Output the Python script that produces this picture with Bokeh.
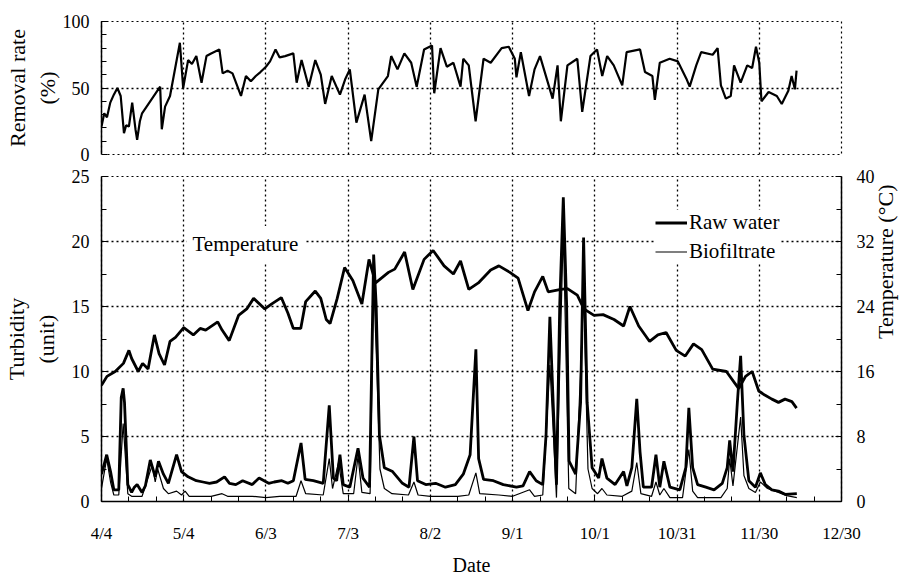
import math
from bokeh.plotting import figure
from bokeh.models import Range1d, LinearAxis, FixedTicker, Legend, LegendItem, Label
from bokeh.layouts import column
from bokeh.embed import file_html
from bokeh.resources import INLINE

# ---------------- data (days since 4/4) ----------------
tick_days = [0, 30, 60, 90, 120, 150, 180, 210, 240, 270]
tick_labels = ["4/4", "5/4", "6/3", "7/3", "8/2", "9/1", "10/1", "10/31", "11/30", "12/30"]

rate_days = [0, 1, 2, 3.2, 4.5, 5.8, 7, 8.2, 9, 10, 11.2, 12.4, 13, 14, 14.8, 21.4, 22, 23.2, 25,
             28.6, 29.8, 31.6, 33, 34.6, 36.5, 38.3, 40, 43, 44.2, 46, 47.8, 50.9, 52.7, 54.5, 56.3,
             58, 60, 61.5, 63.5, 65, 67, 70, 71.2, 73, 75.6, 78, 80, 81.6, 84, 87, 89, 90.6, 93, 96,
             98.4, 101, 104.5, 105.7, 108, 110.5, 113, 115, 117.7, 120.6, 121.4, 123.7, 126, 128.4,
             131, 132, 134, 135, 136.5, 139.4, 142, 146, 148.6, 150.8, 151.4, 153, 156, 158, 160,
             164.6, 166.4, 167.6, 170, 173.6, 175.4, 178.4, 180.8, 182.7, 184.5, 186.9, 190, 191.6,
             196.5, 198.3, 201, 201.9, 203.7, 207.3, 210.3, 213.4, 214.6, 217, 218.8, 223, 224.8,
             226, 227.8, 229.6, 230.8, 233.2, 235.6, 237.4, 238.8, 240, 240.8, 243.4, 246.4, 248.2,
             250.6, 251.8, 253, 253.6]
rate_vals = [21, 31, 28, 39, 45, 50, 44, 16, 22, 21, 39, 19, 11, 25, 31, 51, 19, 36, 44,
             84, 50, 71, 68, 74, 54, 74, 76, 79, 61, 63, 61, 44, 59, 55, 59,
             62, 66, 70, 79, 73, 74, 76, 54, 71, 51, 71, 60, 38, 59, 45, 57, 64, 24, 45,
             10, 49, 59, 74, 64, 76, 69, 51, 79, 82, 46, 80, 66, 69,
             51, 72, 67, 50, 25, 72, 69, 80, 81, 72, 58, 77, 44, 64, 74,
             42, 67, 25, 67, 72, 32, 74, 79, 59, 74, 67, 52, 77,
             79, 62, 59, 41, 69, 72, 70, 57, 51, 67, 77, 75, 80,
             52, 42, 44, 67, 54, 67, 65, 81, 69, 40, 47, 44, 38,
             48, 59, 49, 63]

temp_days = [0, 2, 5, 8, 10, 11, 13.4, 15, 17, 19.3, 21, 23, 25, 27, 30, 33.5, 36, 38, 42.4, 44,
             46.6, 50, 53, 55.5, 59.6, 62, 65.6, 68, 70, 72.7, 74.5, 78, 80, 82, 83.4, 86, 88.7,
             91.7, 95, 97.6, 100, 104.7, 107, 110.6, 113.6, 117.7, 121, 125, 128.4, 131, 134,
             137.5, 142, 145, 149, 152, 155.6, 158, 161, 163, 167.6, 170, 173.6, 176, 179.7, 183,
             187, 190.5, 192.8, 196, 200, 203, 206, 209.7, 213, 216, 219, 223, 228, 232.5, 235,
             237.4, 239.8, 242, 244.6, 247, 249.4, 251.9, 253.6]
temp_vals = [14.3, 15.4, 16.0, 17.0, 18.6, 17.6, 16.0, 17.0, 16.3, 20.5, 18.2, 16.8, 19.7, 20.2,
             21.4, 20.5, 21.3, 21.1, 22.1, 21.1, 19.8, 22.9, 23.7, 25.0, 23.7, 24.3, 25.1, 23.2,
             21.3, 21.3, 24.6, 25.9, 25.0, 22.4, 21.9, 25.0, 28.8, 27.2, 24.3, 29.8, 26.9, 28.2,
             28.6, 30.7, 26.1, 29.8, 30.9, 29.0, 28.0, 29.6, 26.1, 26.9, 28.5, 29.0, 28.2, 27.5,
             23.5, 25.8, 27.7, 25.8, 26.1, 26.2, 25.4, 23.7, 22.9, 23.0, 22.4, 21.6, 24.0, 21.6,
             19.7, 20.5, 20.8, 18.6, 17.9, 19.4, 18.7, 16.3, 16.0, 13.9, 15.4, 16.0, 13.6, 13.1,
             12.6, 12.2, 12.6, 12.3, 11.5]

raw_days = [0, 1.9, 3.3, 4.5, 6.3, 7.2, 7.9, 8.4, 9.6, 11, 12, 13, 14.8, 16, 17.8, 19.6, 20.8, 22.6,
            24.4, 27.4, 29.2, 31.6, 34.6, 37, 39.4, 42, 44.9, 46.7, 49, 51.5, 55, 57.5, 61, 63, 65.8,
            68, 70, 72.8, 74.3, 77.3, 80.9, 83.1, 84.6, 85.8, 87, 88.2, 90.6, 93.6, 95.4, 97.8, 99.3,
            100.2, 101.4, 103.2, 106.2, 109.8, 112.2, 114, 115.3, 118.3, 121.9, 125.5, 129.1, 132,
            134.5, 136.6, 137.6, 139.4, 143, 146.6, 151.4, 153.8, 156.2, 158.6, 161, 162.2, 163.6,
            164.8, 166, 167.2, 168.5, 169.7, 170.6, 173, 174.8, 175.9, 177.2, 179, 181.4, 182.6,
            184.4, 187.4, 190.5, 191.7, 193.5, 195.3, 196.5, 197.7, 200.7, 202.3, 203.7, 205.2,
            207.4, 211, 213.2, 214.3, 215.7, 217.5, 220.5, 223.5, 226.5, 228.3, 229.2, 230.4, 232,
            233.2, 234.4, 236.2, 238.6, 240.4, 242.2, 244.6, 247, 249.4, 253.7]
raw_vals = [2.1, 3.6, 2.3, 0.9, 0.9, 8.0, 8.7, 7.6, 1.3, 0.7, 1.1, 1.3, 0.7, 1.2, 3.2, 1.9, 3.1, 2.1,
            1.4, 3.6, 2.3, 1.9, 1.6, 1.5, 1.4, 1.5, 1.9, 1.4, 1.3, 1.6, 1.3, 1.8, 1.4, 1.5, 1.6,
            1.4, 1.6, 4.5, 1.7, 1.6, 1.4, 7.4, 1.8, 1.6, 3.6, 1.3, 1.1, 4.1, 1.8, 1.1, 19.0,
            15.2, 5.1, 2.6, 2.3, 1.4, 1.1, 5.0, 1.6, 1.3, 1.4, 1.1, 1.3, 2.1,
            3.6, 11.7, 3.3, 1.7, 1.6, 1.3, 1.1, 1.2, 2.3, 1.6, 1.3, 5.1, 14.2,
            7.6, 1.3, 15.2, 23.4, 15.2, 3.1, 2.1, 7.6, 20.3, 7.6, 2.6, 1.8, 3.3,
            1.8, 1.3, 2.3, 1.2, 2.6, 7.9, 3.8, 1.1, 1.1, 3.6, 1.1, 3.1,
            1.1, 0.9, 2.6, 7.2, 2.6, 1.3, 1.1, 0.9, 1.4, 2.6, 4.7, 2.3, 7.6,
            11.2, 5.1, 1.6, 1.1, 2.2, 1.3, 0.9, 0.8, 0.55, 0.6]

bio_days = [0, 1.9, 3.3, 4.5, 6.3, 7.9, 9.6, 11, 14.8, 16.5, 18.5, 19.6, 20.5, 22.6, 24.4, 27.4,
            29.2, 30.5, 32, 40, 44, 46, 55, 60, 65, 71, 72.8, 74.5, 80.9, 83.1, 84.3, 86.5, 88.2,
            92, 93.6, 95, 98, 99.3, 100.5, 101.6, 103.2, 106, 112, 114, 115.5, 120, 125, 130, 134,
            136.6, 138, 145, 150, 156.2, 158, 161, 162.2, 163.6, 164.8, 166, 168.5, 170.5, 173,
            175.9, 177.5, 179, 181, 182.6, 184.4, 190, 193.5, 195.3, 196.8, 200.7, 202.3, 203.7,
            205.2, 207.4, 212, 214.3, 215.7, 217.5, 226, 228.3, 229.2, 230.4, 233.2, 234.4, 236.2,
            238.6, 240.4, 243, 247, 250, 253.7]
bio_vals = [1.0, 3.3, 1.5, 0.5, 0.5, 6.0, 0.6, 0.4, 0.4, 1.5, 2.8, 1.5, 2.5, 1.0, 0.6, 0.8,
            0.5, 0.8, 0.4, 0.4, 0.6, 0.4, 0.4, 0.3, 0.4, 0.4, 1.6, 0.6, 0.5, 3.3, 1.0, 3.0, 0.6,
            0.6, 3.5, 0.7, 0.6, 17.0, 10.0, 2.5, 1.0, 0.6, 0.5, 1.5, 0.5, 0.4, 0.4, 0.4, 0.5,
            2.2, 0.6, 0.5, 0.4, 0.9, 0.4, 0.5, 5.0, 10.5, 5.5, 0.3, 21.0, 1.0, 0.6,
            16.0, 2.5, 1.0, 0.6, 1.0, 0.5, 0.4, 0.8, 3.0, 0.6, 0.4, 1.5, 0.5,
            1.0, 0.3, 0.3, 4.0, 0.8, 0.3, 0.3, 1.0, 3.3, 1.2, 6.5, 2.0, 1.0,
            0.7, 1.5, 1.0, 0.7, 0.45, 0.3]

# ---------------- styling helpers ----------------
SERIF = "Liberation Serif"
W = 913
BL = 99
BR = W - 847
DOT = "2 3"

xr = Range1d(0, 270)


def style_axis(ax, fs="18px"):
    ax.axis_line_color = "black"
    ax.axis_line_width = 1.5
    ax.major_tick_line_color = "black"
    ax.minor_tick_line_color = "black"
    ax.major_tick_in = 6
    ax.major_tick_out = 0
    ax.minor_tick_in = 5
    ax.minor_tick_out = 0
    ax.major_label_text_font = SERIF
    ax.major_label_text_font_size = fs
    ax.major_label_text_color = "black"
    ax.axis_label_text_font = SERIF
    ax.axis_label_text_font_style = "normal"
    ax.axis_label_text_color = "black"
    ax.axis_label_text_font_size = "22px"


def style_fig(p):
    p.outline_line_color = "black"
    p.outline_line_dash = DOT
    p.outline_line_width = 1.2
    p.background_fill_color = "white"
    p.border_fill_color = "white"
    for g in (p.xgrid, p.ygrid):
        g.grid_line_color = "black"
        g.grid_line_dash = DOT
        g.grid_line_width = 1.3


# ---------------- top panel: removal rate ----------------
p1 = figure(width=W, height=165, x_range=xr, y_range=Range1d(0, 100),
            output_backend="svg", toolbar_location=None,
            min_border_left=BL, min_border_right=BR, min_border_top=21, min_border_bottom=11)
style_fig(p1)
p1.xaxis.visible = False
p1.xgrid.ticker = FixedTicker(ticks=tick_days)
p1.yaxis.ticker = FixedTicker(ticks=[0, 50, 100], minor_ticks=[10, 20, 30, 40, 60, 70, 80, 90])
p1.ygrid.ticker = FixedTicker(ticks=[0, 50, 100])
style_axis(p1.yaxis[0])
p1.yaxis.major_label_standoff = 12
p1.yaxis.axis_label = "Removal rate\n(%)"
p1.yaxis.axis_label_standoff = 0
p1.line(rate_days, rate_vals, line_color="black", line_width=2.2)

# ---------------- bottom panel: turbidity + temperature ----------------
p2 = figure(width=W, height=414, x_range=xr, y_range=Range1d(0, 25),
            output_backend="svg", toolbar_location=None,
            min_border_left=BL, min_border_right=BR, min_border_top=11, min_border_bottom=78)
style_fig(p2)
p2.extra_y_ranges = {"temp": Range1d(0, 40)}

p2.xaxis.ticker = FixedTicker(ticks=tick_days, minor_ticks=[d for d in range(10, 270, 10) if d % 30])
p2.xaxis.major_label_overrides = {d: l for d, l in zip(tick_days, tick_labels)}
style_axis(p2.xaxis[0], "17px")
p2.xaxis.major_label_standoff = 22
p2.xaxis.axis_label = "Date"
p2.xaxis.axis_label_text_font_size = "20px"
p2.xaxis.axis_label_standoff = 8
p2.xgrid.ticker = FixedTicker(ticks=tick_days)

p2.yaxis.ticker = FixedTicker(ticks=[0, 5, 10, 15, 20, 25], minor_ticks=[2.5, 7.5, 12.5, 17.5, 22.5])
style_axis(p2.yaxis[0])
p2.yaxis.major_label_standoff = 12
p2.yaxis.axis_label = "Turbidity\n(unit)"
p2.yaxis.axis_label_standoff = 10
p2.ygrid.ticker = FixedTicker(ticks=[0, 5, 10, 15, 20, 25])

rax = LinearAxis(y_range_name="temp",
                 ticker=FixedTicker(ticks=[0, 8, 16, 24, 32, 40], minor_ticks=[4, 12, 20, 28, 36]))
style_axis(rax)
rax.major_label_standoff = 15
rax.axis_label = "Temperature (°C)"
rax.axis_label_standoff = 8
rax.axis_label_orientation = math.pi / 2
p2.add_layout(rax, "right")

p2.line(temp_days, temp_vals, y_range_name="temp", line_color="black", line_width=2.8)
r_raw = p2.line(raw_days, raw_vals, line_color="black", line_width=2.8)
r_bio = p2.line(bio_days, bio_vals, line_color="black", line_width=1.2)

p2.add_layout(Label(x=31, y=19.8, text="Temperature", text_baseline="middle",
                    text_font=SERIF, text_font_size="21px", text_color="black",
                    background_fill_color="white", padding=6))

legend = Legend(items=[LegendItem(label="Raw water", renderers=[r_raw]),
                       LegendItem(label="Biofiltrate", renderers=[r_bio])],
                location=(554, 237), padding=0, margin=0, spacing=4,
                glyph_width=32, glyph_height=25, label_height=25, label_standoff=2,
                label_text_font=SERIF, label_text_font_size="21px", label_text_color="black",
                border_line_alpha=0, background_fill_color="white", background_fill_alpha=1)
p2.add_layout(legend)

layout = column(p1, p2, spacing=0)
open("out.html", "w").write(file_html(layout, INLINE))
